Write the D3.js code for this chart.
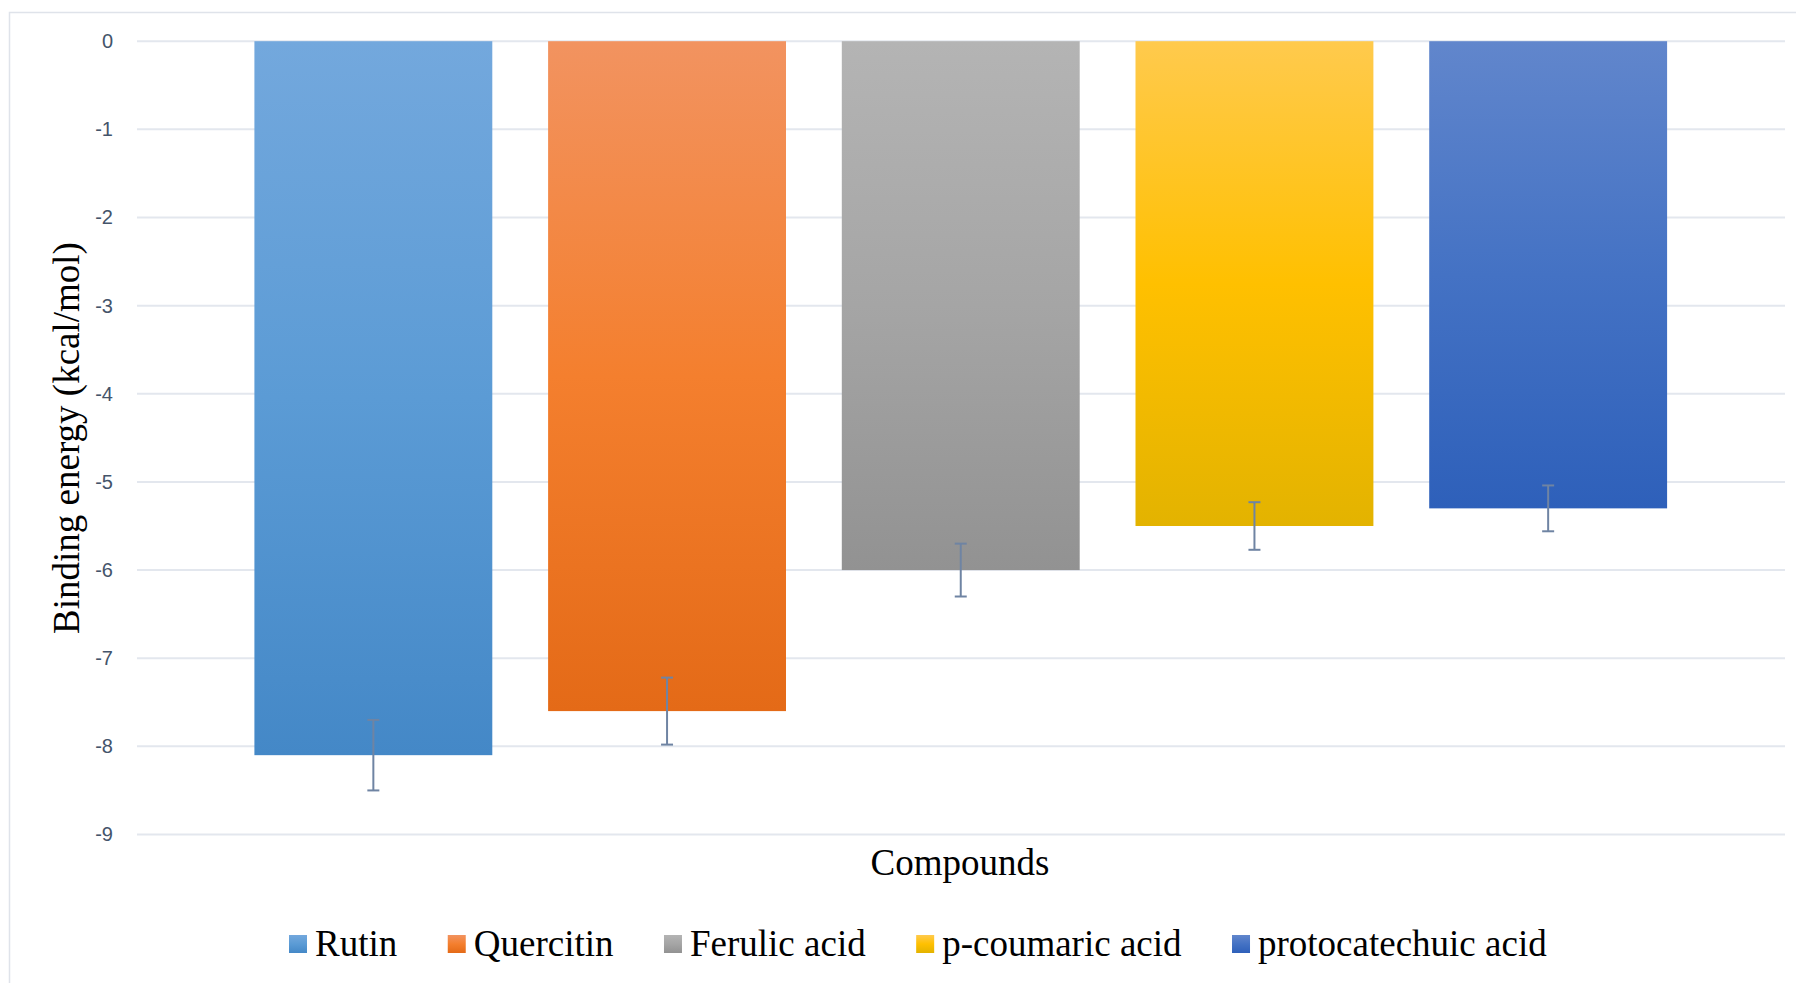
<!DOCTYPE html>
<html>
<head>
<meta charset="utf-8">
<script src="https://cdn.jsdelivr.net/npm/d3@7"></script>
<style>
  html, body { margin: 0; padding: 0; background: #ffffff; }
  svg { display: block; }
</style>
</head>
<body>
<svg id="chart" width="1796" height="983"></svg>
<script>
// ---- data ----
const categories = ["Rutin", "Quercitin", "Ferulic acid", "p-coumaric acid", "protocatechuic acid"];
const values = [-8.1, -7.6, -6.0, -5.5, -5.3];
const errors = [0.4, 0.38, 0.3, 0.27, 0.26];
const yTicks = [0, -1, -2, -3, -4, -5, -6, -7, -8, -9];
const colorsTop = ["#73a8dd", "#f29360", "#b4b4b4", "#ffca4d", "#6186cc"];
const colorsMid = ["#5b9bd5", "#f47f2e", "#a5a5a5", "#ffc000", "#4472c4"];
const colorsBottom = ["#4488c7", "#e46a17", "#929292", "#e3b300", "#2e60ba"];
const yTitle = "Binding energy (kcal/mol)";
const xTitle = "Compounds";

// ---- layout ----
const W = 1796, H = 983;
const plot = { left: 137, right: 1785, top: 41.2, bottom: 834.5 };
const svg = d3.select("#chart");

// frame
svg.append("rect")
  .attr("x", 9.5).attr("y", 12.5)
  .attr("width", W + 20).attr("height", H + 20)
  .attr("fill", "#ffffff")
  .attr("stroke", "#dfe3ea").attr("stroke-width", 1.5);

// gradients
const defs = svg.append("defs");
categories.forEach((c, i) => {
  const g = defs.append("linearGradient")
    .attr("id", "grad" + i)
    .attr("x1", 0).attr("y1", 0).attr("x2", 0).attr("y2", 1);
  g.append("stop").attr("offset", "0%").attr("stop-color", colorsTop[i]);
  g.append("stop").attr("offset", "50%").attr("stop-color", colorsMid[i]);
  g.append("stop").attr("offset", "100%").attr("stop-color", colorsBottom[i]);
});

// scales
const x = d3.scaleBand()
  .domain(categories)
  .range([226.5, 1695])
  .paddingInner(0.19)
  .paddingOuter(0.095);

const y = d3.scaleLinear()
  .domain([-9, 0])
  .range([plot.bottom, plot.top]);

// gridlines
svg.append("g")
  .selectAll("line")
  .data(yTicks)
  .join("line")
  .attr("x1", plot.left).attr("x2", plot.right)
  .attr("y1", d => y(d)).attr("y2", d => y(d))
  .attr("stroke", "#e3e7ee").attr("stroke-width", 2);

// y axis labels
const yAxis = d3.axisLeft(y).tickValues(yTicks).tickSize(0).tickPadding(0).tickFormat(d => String(d));
const yg = svg.append("g").attr("transform", "translate(113,0)").call(yAxis);
yg.select(".domain").remove();
yg.selectAll("text")
  .attr("font-family", "'Liberation Sans', Arial, sans-serif")
  .attr("font-size", 20)
  .attr("fill", "#44546a");

// bars
svg.append("g")
  .selectAll("rect")
  .data(categories)
  .join("rect")
  .attr("x", d => x(d))
  .attr("width", x.bandwidth())
  .attr("y", (d, i) => y(Math.max(0, values[i])))
  .attr("height", (d, i) => Math.abs(y(values[i]) - y(0)))
  .attr("fill", (d, i) => "url(#grad" + i + ")");

// error bars
const eg = svg.append("g").attr("stroke", "#6f84a3").attr("stroke-width", 2).attr("fill", "none");
categories.forEach((c, i) => {
  const cx = x(c) + x.bandwidth() / 2;
  const y1 = y(values[i] + errors[i]);
  const y2 = y(values[i] - errors[i]);
  eg.append("line").attr("x1", cx).attr("x2", cx).attr("y1", y1).attr("y2", y2);
  eg.append("line").attr("x1", cx - 6).attr("x2", cx + 6).attr("y1", y1).attr("y2", y1);
  eg.append("line").attr("x1", cx - 6).attr("x2", cx + 6).attr("y1", y2).attr("y2", y2);
});

// axis titles
svg.append("text")
  .attr("transform", "translate(79,438) rotate(-90)")
  .attr("text-anchor", "middle")
  .attr("font-family", "'Liberation Serif', 'Times New Roman', serif")
  .attr("font-size", 37)
  .attr("fill", "#000")
  .text(yTitle);

svg.append("text")
  .attr("x", 960).attr("y", 875)
  .attr("text-anchor", "middle")
  .attr("font-family", "'Liberation Serif', 'Times New Roman', serif")
  .attr("font-size", 37)
  .attr("fill", "#000")
  .text(xTitle);

// legend
const lg = svg.append("g");
let lx = 289;
const ly = 956;
categories.forEach((c, i) => {
  lg.append("rect")
    .attr("x", lx).attr("y", ly - 21)
    .attr("width", 18).attr("height", 18)
    .attr("fill", "url(#grad" + i + ")");
  const t = lg.append("text")
    .attr("x", lx + 26).attr("y", ly)
    .attr("font-family", "'Liberation Serif', 'Times New Roman', serif")
    .attr("font-size", 37)
    .attr("fill", "#000")
    .text(c);
  const w = t.node().getComputedTextLength();
  lx = lx + 26 + w + 50.5;
});
</script>
</body>
</html>
